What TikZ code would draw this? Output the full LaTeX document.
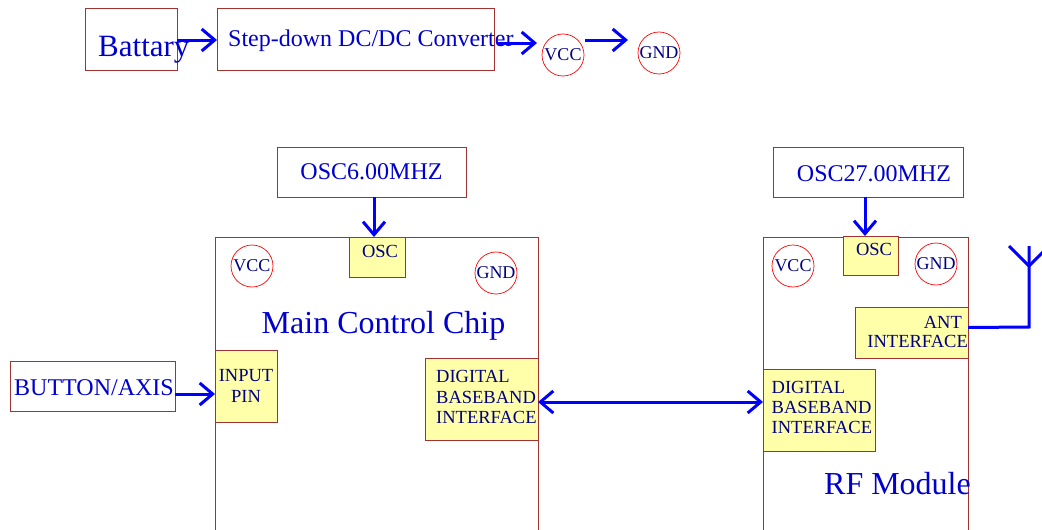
\documentclass[tikz,border=0pt]{standalone}
\usepackage{fontspec}
\setmainfont{Liberation Serif}
\usetikzlibrary{arrows.meta}
\definecolor{boxred}{RGB}{160,50,50}
\definecolor{bigblue}{RGB}{0,0,205}
\definecolor{navy}{RGB}{0,0,128}
\definecolor{pinyellow}{RGB}{255,255,170}
\definecolor{arrblue}{RGB}{0,0,255}
\tikzset{
  box/.style={draw=boxred, line width=0.9pt, inner sep=0pt, outer sep=0pt},
  ybox/.style={box, fill=pinyellow},
  pad/.style={draw=red, line width=0.7pt, circle, minimum size=42pt, inner sep=0pt, outer sep=0pt,
    text=navy, font=\fontsize{18}{20}\selectfont},
  bigtxt/.style={text=bigblue, inner sep=0pt, font=\fontsize{31}{34}\selectfont},
  midtxt/.style={text=bigblue, inner sep=0pt, font=\fontsize{24}{26}\selectfont},
  titletxt/.style={text=bigblue, inner sep=0pt, font=\fontsize{32}{34}\selectfont},
  smalltxt/.style={text=navy, inner sep=0pt, font=\fontsize{18.5}{20.2}\selectfont},
  arr/.style={draw=arrblue, line width=3pt, -{Straight Barb[length=13pt,width=22pt,line width=3pt]}},
  darr/.style={draw=arrblue, line width=3pt, {Straight Barb[length=13pt,width=22pt,line width=3pt]}-{Straight Barb[length=13pt,width=22pt,line width=3pt]}},
  wire/.style={draw=arrblue, line width=3pt},
}
\begin{document}
\begin{tikzpicture}[x=1pt,y=-1pt]
\useasboundingbox (0,0) rectangle (1042,530);
\clip (0,0) rectangle (1042,530);

% top power chain
\node[box, minimum width=92pt, minimum height=62pt] (bat) at (131,39) {};
\node[box, minimum width=277pt, minimum height=62pt] (step) at (355.5,39) {};
\node[pad] (vcc0) at (563,55) {VCC};
\node[pad] (gnd0) at (659,53) {GND};
\node[bigtxt, anchor=base west] (battxt) at (98,56) {Battary};
\node[midtxt, anchor=base west] (steptxt) at (228,46) {Step-down DC/DC Converter};
\coordinate (vccin) at (537,43);
\coordinate (vccout) at (585,40);
\coordinate (gndin) at (628,40);
\draw[arr] ([yshift=-1pt]bat.east) -- ([yshift=-1pt]step.west);
\draw[arr] ([xshift=3pt,yshift=-4pt]step.east) -- (vccin);
\draw[arr] (vccout) -- (gndin);

% main control chip
\node[box, minimum width=323pt, minimum height=303pt] (chip) at (376.5,388.5) {};
\node[box, minimum width=189pt, minimum height=50pt] (osc6) at (371.5,172) {};
\node[midtxt] (osc6txt) at (371.5,172) {OSC6.00MHZ};
\node[ybox, minimum width=56pt, minimum height=40pt] (osc1) at (377,257) {};
\node[smalltxt, anchor=base] (osc1txt) at (380,257) {OSC};
\draw[arr] ([xshift=2.5pt]osc6.south) -- ([xshift=-3pt]osc1.north);
\node[pad] (vcc1) at (252,266) {VCC};
\node[pad] (gnd1) at (496,273) {GND};
\node[titletxt] (chiptxt) at (383.5,325.5) {Main Control Chip};
\node[ybox, minimum width=62pt, minimum height=72pt, smalltxt, align=center] (inpin) at (246,386) {INPUT\\PIN};
\node[box, minimum width=165pt, minimum height=50pt] (btn) at (92.5,386) {};
\node[midtxt] (btntxt) at (94,388) {BUTTON/AXIS};
\draw[arr] ([yshift=-8pt]btn.east) -- ([yshift=-8pt]inpin.west);
\node[ybox, minimum width=113pt, minimum height=82pt] (dbi1) at (481.5,399) {};
\node[smalltxt, align=left, anchor=west] (dbi1txt) at (436,397) {DIGITAL\\BASEBAND\\INTERFACE};

% RF module
\node[box, minimum width=205pt, minimum height=303pt] (rf) at (865.5,388.5) {};
\node[box, minimum width=190pt, minimum height=50pt] (osc27) at (868,172) {};
\node[midtxt] (osc27txt) at (874,173.5) {OSC27.00MHZ};
\node[ybox, minimum width=55pt, minimum height=39pt] (osc2) at (870.5,255.5) {};
\node[smalltxt, anchor=base] (osc2txt) at (874,255) {OSC};
\draw[arr] ([xshift=-3pt]osc27.south) -- ([xshift=-5.5pt]osc2.north);
\node[pad] (vcc2) at (793,266) {VCC};
\node[pad] (gnd2) at (936,264) {GND};
\node[ybox, minimum width=113pt, minimum height=51pt] (ant) at (911.5,332.5) {};
\node[smalltxt, align=right, anchor=east, font=\fontsize{18.5}{18.5}\selectfont] (anttxt) at (968,332) {ANT\hspace*{6pt}\\INTERFACE};
\node[ybox, minimum width=112pt, minimum height=82pt] (dbi2) at (819,410) {};
\node[smalltxt, align=left, anchor=west, font=\fontsize{18.5}{20}\selectfont] (dbi2txt) at (771.5,407) {DIGITAL\\BASEBAND\\INTERFACE};
\node[titletxt] (rftxt) at (897.5,484) {RF Module};
\draw[darr] ([yshift=-3pt]dbi1.east) -- ([yshift=-3pt]dbi1.east -| dbi2.west);

% antenna
\coordinate (antcorner) at (1029,327);
\coordinate (antjoin) at (1029,266);
\coordinate (anttop) at (1029,246);
\coordinate (armleft) at (1009,246);
\coordinate (armright) at (1049,246);
\draw[wire] ([yshift=5pt]ant.east) -- (antcorner) -- (anttop);
\draw[wire] (armleft) -- (antjoin) -- (armright);
\end{tikzpicture}
\end{document}
